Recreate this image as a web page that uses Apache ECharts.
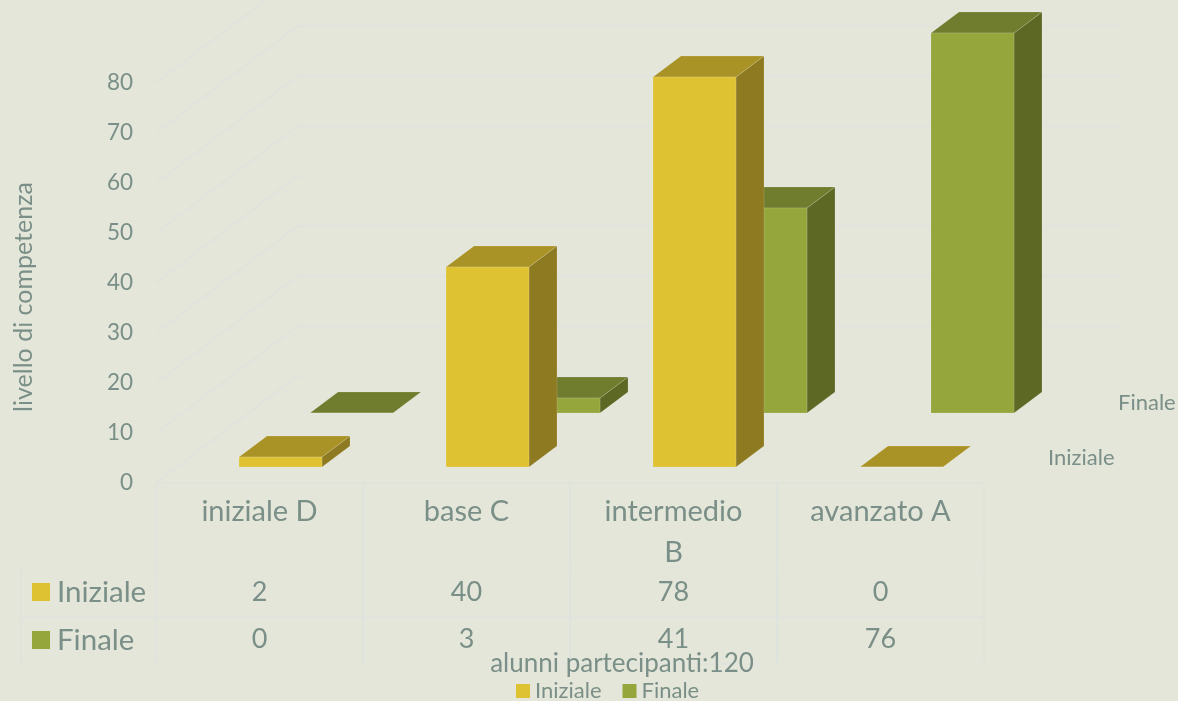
<!DOCTYPE html>
<html>
<head>
<meta charset="utf-8">
<style>html,body{margin:0;padding:0;background:#e4e6da;}#c{width:1178px;height:701px;}</style>
<script src="https://cdn.jsdelivr.net/npm/echarts@6/dist/echarts.min.js"></script>
</head>
<body>
<div id="c"></div>
<script>
const categories = ['iniziale D', 'base C', 'intermedio\nB', 'avanzato A'];
const iniziale = [2, 40, 78, 0];
const finale = [0, 3, 41, 76];
const yTicks = [0, 10, 20, 30, 40, 50, 60, 70, 80];
const seriesNames = ['Iniziale', 'Finale'];

const TEXT = '#7a8f87', LINE = '#dfe3de', FONT = 'Lato';
const DEPTH = [28, -21];
const WALL = [142, -107], WALL_END = 1125;
const ROW_Y = [568, 617, 664], TABLE_TOP = 483, TABLE_LEFT = 21;
const CELL_Y = [592, 639];

function bar(base, faces) {
  return function (params, api) {
    const i = api.value(0), v = api.value(1);
    const w = 83, p = api.coord([i, v]), o = api.coord([i, 0]);
    const x0 = p[0] + base[0] - w / 2, x1 = x0 + w;
    const yt = p[1] + base[1], yb = o[1] + base[1];
    const [dx, dy] = DEPTH;
    const edge = 'rgba(255,255,255,0.14)';
    const poly = (pts, fill) => ({ type: 'polygon', shape: { points: pts }, style: { fill, stroke: edge, lineWidth: 1 } });
    return { type: 'group', children: [
      poly([[x1, yb], [x1 + dx, yb + dy], [x1 + dx, yt + dy], [x1, yt]], faces.side),
      poly([[x0, yt], [x1, yt], [x1 + dx, yt + dy], [x0 + dx, yt + dy]], faces.top),
      poly([[x0, yb], [x1, yb], [x1, yt], [x0, yt]], faces.front)
    ] };
  };
}

function wallLine(params, api) {
  const v = api.value(1);
  const left = api.coord([0, v])[0] - api.size([1, 0])[0] / 2;
  const y = api.coord([0, v])[1];
  const a = [left, y], b = [left + WALL[0], y + WALL[1]], c = [WALL_END, y + WALL[1]];
  return { type: 'polyline', shape: { points: [a, b, c] }, style: { fill: 'none', stroke: LINE, lineWidth: 1.5 } };
}

function tableCell(params, api) {
  const i = api.value(0);
  const band = api.size([1, 0])[0];
  const cx = api.coord([i, 0])[0];
  const l = cx - band / 2, r = cx + band / 2;
  const ln = (x1, y1, x2, y2) => ({ type: 'line', shape: { x1, y1, x2, y2 }, style: { stroke: LINE, lineWidth: 1.5 } });
  const tx = (t, y) => ({ type: 'text', style: { x: cx, y, text: String(t), fill: TEXT, font: '27px ' + FONT, align: 'center', verticalAlign: 'middle' } });
  return { type: 'group', children: [
    ln(l, TABLE_TOP, l, ROW_Y[2]), ln(r, TABLE_TOP, r, ROW_Y[2]),
    ln(l, TABLE_TOP, r, TABLE_TOP), ln(l, ROW_Y[0], r, ROW_Y[0]), ln(l, ROW_Y[1], r, ROW_Y[1]), ln(l, ROW_Y[2], r, ROW_Y[2]),
    tx(iniziale[i], CELL_Y[0]), tx(finale[i], CELL_Y[1])
  ] };
}

const chart = echarts.init(document.getElementById('c'), null, { renderer: 'canvas' });
chart.setOption({
  animation: false,
  backgroundColor: '#e4e6da',
  textStyle: { fontFamily: FONT },
  title: {
    text: 'alunni partecipanti:120', left: 617, top: 646, textAlign: 'center',
    textStyle: { color: TEXT, fontSize: 26, fontWeight: 'normal', fontFamily: FONT }
  },
  legend: [
    { data: seriesNames, selectedMode: false, orient: 'vertical', left: 32, top: 577, itemWidth: 18, itemHeight: 18, itemGap: 18, icon: 'rect',
      textStyle: { color: TEXT, fontSize: 29.5, fontFamily: FONT, padding: [0, 0, 0, 2] }, padding: 0 },
    { data: seriesNames, selectedMode: false, left: 516, top: 680, itemWidth: 14, itemHeight: 14, itemGap: 21, icon: 'rect',
      textStyle: { color: TEXT, fontSize: 22, fontFamily: FONT }, padding: 0 }
  ],
  grid: { left: 156, top: 83, width: 828, height: 400, outerBoundsMode: 'none' },
  xAxis: {
    type: 'category', data: categories,
    axisLine: { show: false }, axisTick: { show: false }, splitLine: { show: false },
    axisLabel: { color: TEXT, fontSize: 29, fontFamily: FONT, lineHeight: 41, margin: 8, interval: 0 }
  },
  yAxis: {
    type: 'value', min: 0, max: 80, interval: 10,
    name: 'livello di competenza', nameLocation: 'middle', nameGap: 120, nameRotate: 90,
    nameTextStyle: { color: TEXT, fontSize: 25, fontFamily: FONT, padding: [0, 28, 0, 0] },
    axisLine: { show: false }, axisTick: { show: false }, splitLine: { show: false },
    axisLabel: { color: TEXT, fontSize: 22.5, fontFamily: FONT, margin: 23, padding: [8, 0, 0, 0] }
  },
  graphic: [
    { type: 'text', x: 1048, y: 458, style: { text: seriesNames[0], fill: TEXT, font: '22px ' + FONT, verticalAlign: 'middle' } },
    { type: 'text', x: 1118, y: 403, style: { text: seriesNames[1], fill: TEXT, font: '22px ' + FONT, verticalAlign: 'middle' } },
    { type: 'polyline', silent: true, shape: { points: [[156, ROW_Y[0]], [TABLE_LEFT, ROW_Y[0]], [TABLE_LEFT, ROW_Y[2]], [156, ROW_Y[2]]] }, style: { fill: 'none', stroke: LINE, lineWidth: 1.5 } },
    { type: 'line', silent: true, shape: { x1: TABLE_LEFT, y1: ROW_Y[1], x2: 156, y2: ROW_Y[1] }, style: { stroke: LINE, lineWidth: 1.5 } }
  ],
  series: [
    { type: 'custom', name: 'wall', z: 1, silent: true, data: yTicks.map(v => [0, v]), renderItem: wallLine, encode: { x: 0, y: 1 } },
    { type: 'custom', name: 'table', z: 1, silent: true, data: categories.map((c, i) => [i, 0]), renderItem: tableCell, encode: { x: 0, y: 1 } },
    { type: 'custom', name: seriesNames[1], z: 2, itemStyle: { color: '#94a63c' }, data: finale.map((v, i) => [i, v]),
      renderItem: bar([92, -70], { front: '#94a63c', side: '#5e6825', top: '#707d2e' }), encode: { x: 0, y: 1 } },
    { type: 'custom', name: seriesNames[0], z: 3, itemStyle: { color: '#dfc232' }, data: iniziale.map((v, i) => [i, v]),
      renderItem: bar([21, -16], { front: '#dfc232', side: '#8e7a20', top: '#a99327' }), encode: { x: 0, y: 1 } }
  ]
});
</script>
</body>
</html>
